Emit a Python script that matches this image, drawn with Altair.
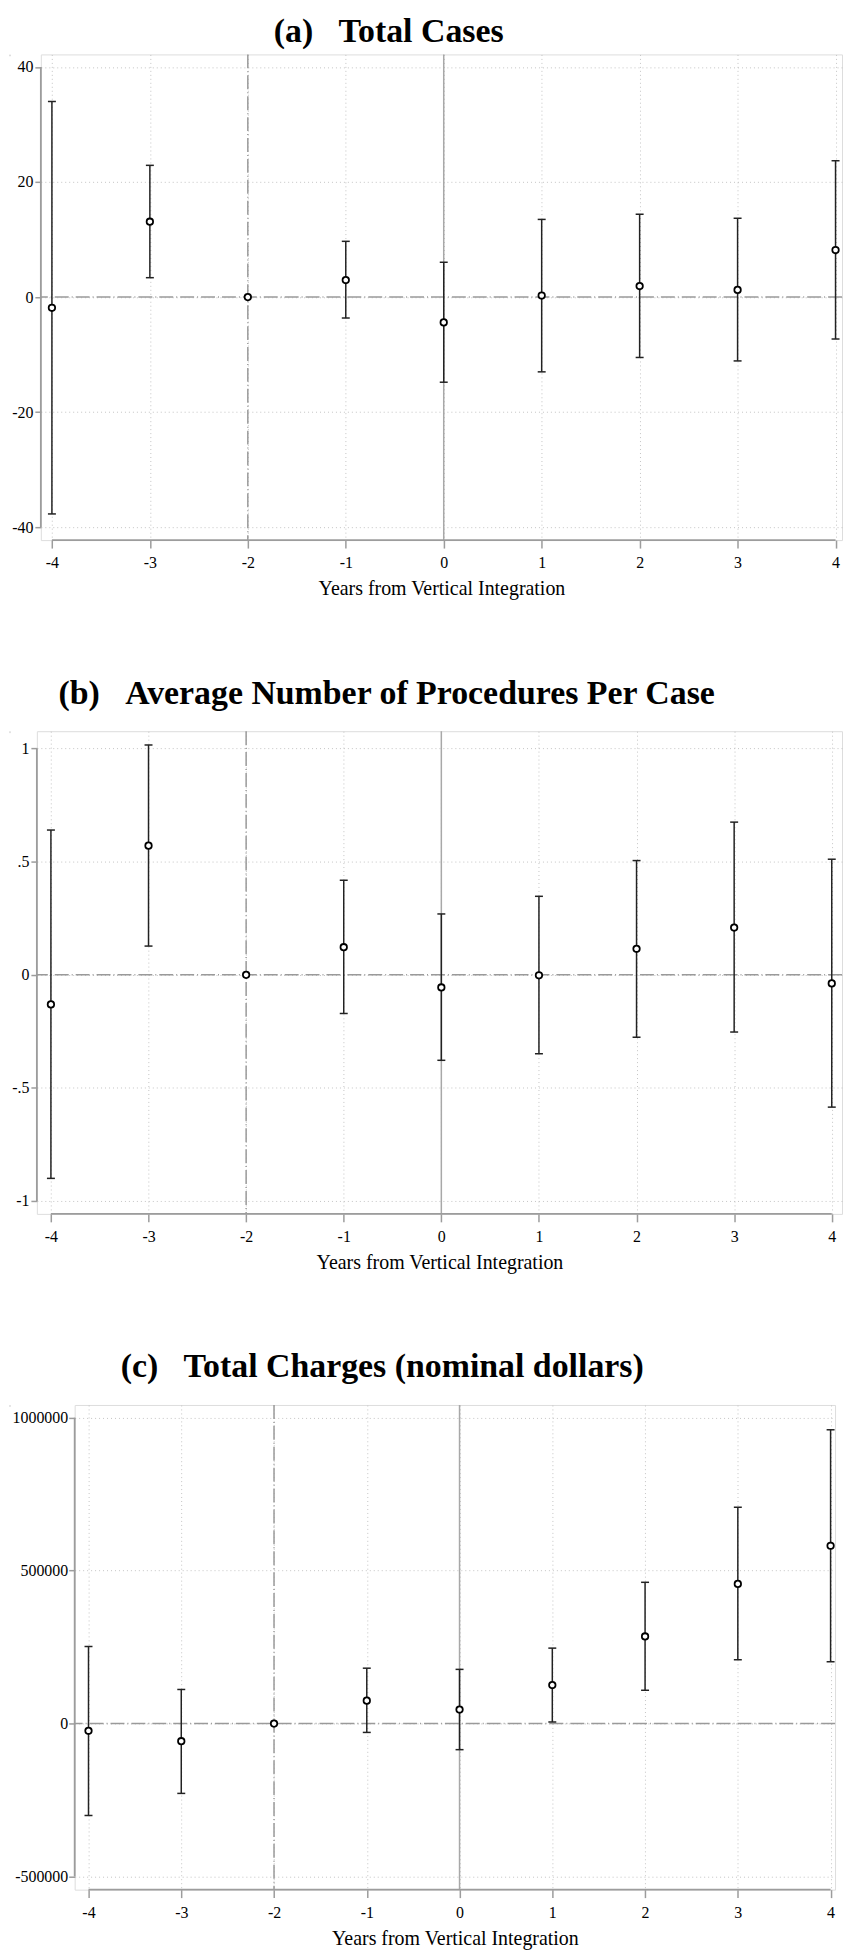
import altair as alt
import pandas as pd

# ---------------- data ----------------
years = [-4, -3, -2, -1, 0, 1, 2, 3, 4]

cases_est = [-1.86, 13.1, 0.0, 2.96, -4.40, 0.27, 1.92, 1.24, 8.18]
cases_lo = [-37.7, 3.37, None, -3.64, -14.8, -13.0, -10.5, -11.1, -7.29]
cases_hi = [34.0, 22.9, None, 9.69, 6.05, 13.5, 14.4, 13.7, 23.7]

proc_est = [-0.131, 0.571, 0.0, 0.122, -0.056, -0.002, 0.115, 0.209, -0.038]
proc_lo = [-0.90, 0.127, None, -0.171, -0.378, -0.349, -0.276, -0.253, -0.585]
proc_hi = [0.64, 1.016, None, 0.418, 0.269, 0.347, 0.505, 0.675, 0.511]

chg_est = [-23600, -57700, 0, 74800, 45900, 126000, 284800, 456700, 581400]
chg_lo = [-300500, -228300, None, -28900, -85300, 5200, 108900, 208700, 202100]
chg_hi = [252000, 111500, None, 181100, 177200, 246700, 461900, 707300, 960600]

panel_titles = [
    "(a)\u00a0\u00a0\u00a0Total Cases",
    "(b)\u00a0\u00a0\u00a0Average Number of Procedures Per Case",
    "(c)\u00a0\u00a0\u00a0Total Charges (nominal dollars)",
]
x_title = "Years from Vertical Integration"
y_ticks_a = [-40, -20, 0, 20, 40]
y_ticks_b = [-1, -0.5, 0, 0.5, 1]
y_ticks_c = [-500000, 0, 500000, 1000000]
ref_dashed_x = [-2]
ref_solid_x = [0]
ref_y = [0]

# ---------------- styling ----------------
FONT = "Liberation Serif"
AX = "#9c9c9c"
BAR = "#222222"


def panel(est, lo, hi, title, yticks, ydom, xdom, width, height, title_dx,
          title_offset, label_expr, ytick_size=7, ylabel_pad=3):
    pts = pd.DataFrame({"x": years, "est": est})
    ci = pd.DataFrame({"x": years, "lo": lo, "hi": hi}).dropna()
    xs = alt.Scale(domain=xdom, nice=False, zero=False)
    ys = alt.Scale(domain=ydom, nice=False, zero=False)

    xaxis = alt.Axis(values=years, labelExpr="toString(datum.value)",
                     title=x_title, grid=True, gridDash=[1, 3],
                     gridColor="#c4c4c4", gridWidth=1, domain=False,
                     tickColor=AX, tickSize=8, tickWidth=1.5,
                     labelFont=FONT, labelFontSize=16, labelColor="black",
                     labelPadding=7, titleFont=FONT, titleFontSize=20,
                     titleFontWeight="normal", titleColor="black",
                     titlePadding=8)
    yaxis = alt.Axis(values=yticks, labelExpr=label_expr, title=None,
                     grid=True, gridDash=[1, 3], gridColor="#c4c4c4",
                     gridWidth=1, domain=False, tickColor=AX,
                     tickSize=ytick_size, tickWidth=1.5, labelFont=FONT,
                     labelFontSize=16, labelColor="black",
                     labelPadding=ylabel_pad)

    def X(f):
        return alt.X(f, scale=xs, axis=xaxis, title=x_title)

    def Y(f):
        return alt.Y(f, scale=ys, axis=yaxis, title=None)

    yline = alt.Chart(pd.DataFrame({"lo": [min(yticks)], "hi": [max(yticks)]})).mark_rule(
        color=AX, strokeWidth=1.8).encode(
        x=alt.value(0), y=Y("lo:Q"), y2="hi:Q")
    xline = alt.Chart(pd.DataFrame({"lo": [min(years)], "hi": [max(years)]})).mark_rule(
        color=AX, strokeWidth=1.8).encode(
        y=alt.value(height), x=X("lo:Q"), x2="hi:Q")

    hdash = alt.Chart(pd.DataFrame({"v": ref_y})).mark_rule(
        color="#9a9a9a", strokeWidth=1.5, strokeDash=[14, 3, 1, 3]).encode(
        y=Y("v:Q"))
    vdash = alt.Chart(pd.DataFrame({"v": ref_dashed_x})).mark_rule(
        color="#9a9a9a", strokeWidth=1.5, strokeDash=[14, 3, 1, 3]).encode(
        x=X("v:Q"))
    vsolid = alt.Chart(pd.DataFrame({"v": ref_solid_x})).mark_rule(
        color="#a8a8a8", strokeWidth=1.5).encode(
        x=X("v:Q"))

    bars = alt.Chart(ci).mark_rule(color=BAR, strokeWidth=1.5).encode(
        x=X("x:Q"), y=Y("lo:Q"), y2="hi:Q")
    cap_lo = alt.Chart(ci).mark_tick(color=BAR, orient="horizontal", size=8,
                                     thickness=1.5, opacity=1).encode(
        x=X("x:Q"), y=Y("lo:Q"))
    cap_hi = alt.Chart(ci).mark_tick(color=BAR, orient="horizontal", size=8,
                                     thickness=1.5, opacity=1).encode(
        x=X("x:Q"), y=Y("hi:Q"))
    points = alt.Chart(pts).mark_point(shape="circle", size=42, fill="white",
                                       fillOpacity=1, stroke="black",
                                       strokeWidth=1.8, opacity=1).encode(
        x=X("x:Q"), y=Y("est:Q"))

    layered = alt.layer(vsolid, vdash, hdash, yline, xline, bars, cap_lo,
                        cap_hi, points).properties(
        width=width, height=height,
        title=alt.TitleParams(text=title, font=FONT, fontSize=34,
                              fontWeight="bold", color="black",
                              anchor="middle", frame="group", dx=title_dx,
                              offset=title_offset),
    )
    # a 1px invisible spacer on the left lets each panel's y-axis labels
    # start at the left edge, so the plot areas do not share one origin
    spacer = alt.Chart(pd.DataFrame({"v": [0]})).mark_rule(
        opacity=0, strokeWidth=0).encode(
        x=alt.value(0), y=alt.value(0), y2=alt.value(0)).properties(
        width=1, height=1)
    return alt.hconcat(spacer, layered, spacing=0)


pa = panel(cases_est, cases_lo, cases_hi, panel_titles[0], y_ticks_a,
           [-42.25, 42.18], [-4.113, 4.066], 805, 488, -53, 5,
           "toString(datum.value)", ytick_size=6, ylabel_pad=2)
pb = panel(proc_est, proc_lo, proc_hi, panel_titles[1], y_ticks_b,
           [-1.057, 1.077], [-4.144, 4.105], 809, 485, -53, 20,
           "replace(toString(datum.value), '0.', '.')", ytick_size=6,
           ylabel_pad=2)
pc = panel(chg_est, chg_lo, chg_hi, panel_titles[2], y_ticks_c,
           [-543000, 1041700], [-4.149, 4.048], 764, 487, -73, 20,
           "toString(datum.value)", ytick_size=6, ylabel_pad=1)

chart = alt.vconcat(pa, pb, pc, spacing=76).configure_view(
    strokeWidth=0, stroke="transparent").configure(
    background="white", padding={"left": 0, "top": 1, "right": 0, "bottom": 0})

chart.save("out.html", embed_options={"renderer": "svg", "actions": False})
